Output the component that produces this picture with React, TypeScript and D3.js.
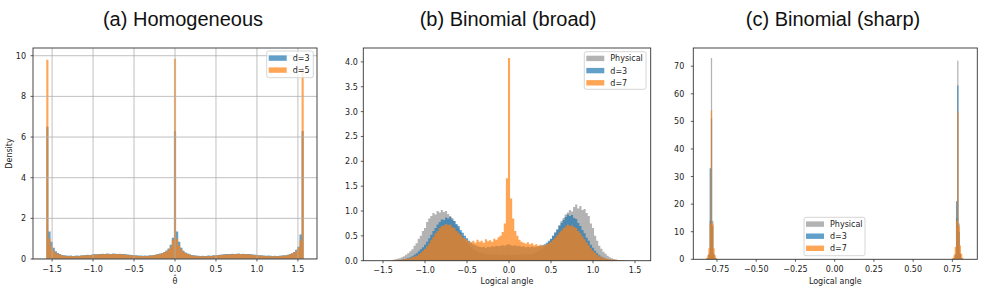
import React from "react";
import * as d3 from "d3";

const W = 987;
const H = 293;

// (a) Homogeneous: 121 bins over [-pi/2, pi/2]
const homLo = -1.5708;
const homHi = 1.5708;
const homD3 = [
  6.5, 1.35, 0.85, 0.55, 0.38, 0.3, 0.24, 0.2, 0.18, 0.17,
  0.16, 0.17, 0.15, 0.16, 0.17, 0.16, 0.18, 0.19, 0.2, 0.21,
  0.2, 0.22, 0.24, 0.23, 0.25, 0.24, 0.26, 0.25, 0.27, 0.26,
  0.25, 0.27, 0.26, 0.25, 0.26, 0.24, 0.25, 0.23, 0.22, 0.21,
  0.2, 0.19, 0.18, 0.17, 0.17, 0.16, 0.17, 0.16, 0.18, 0.19,
  0.2, 0.22, 0.24, 0.27, 0.3, 0.35, 0.42, 0.52, 0.7, 1.05,
  6.3,
  1.35, 0.85, 0.55, 0.4, 0.32, 0.27, 0.23, 0.2, 0.18, 0.17,
  0.16, 0.15, 0.16, 0.15, 0.16, 0.17, 0.16, 0.18, 0.19, 0.2,
  0.21, 0.22, 0.23, 0.24, 0.25, 0.24, 0.26, 0.25, 0.26, 0.27,
  0.25, 0.26, 0.25, 0.24, 0.25, 0.23, 0.22, 0.21, 0.2, 0.19,
  0.18, 0.17, 0.16, 0.17, 0.16, 0.15, 0.16, 0.15, 0.16, 0.17,
  0.18, 0.19, 0.21, 0.24, 0.28, 0.35, 0.45, 0.6, 1.2, 6.3,
];
const homD5 = [
  9.8, 1.0, 0.62, 0.42, 0.32, 0.25, 0.21, 0.18, 0.16, 0.15,
  0.14, 0.15, 0.13, 0.14, 0.15, 0.14, 0.16, 0.17, 0.18, 0.19,
  0.18, 0.2, 0.22, 0.21, 0.23, 0.22, 0.24, 0.23, 0.25, 0.24,
  0.23, 0.25, 0.24, 0.23, 0.24, 0.22, 0.23, 0.21, 0.2, 0.19,
  0.18, 0.17, 0.16, 0.15, 0.15, 0.14, 0.15, 0.14, 0.16, 0.17,
  0.18, 0.2, 0.22, 0.25, 0.28, 0.32, 0.38, 0.48, 0.62, 0.95,
  9.85,
  1.0, 0.66, 0.48, 0.36, 0.29, 0.24, 0.21, 0.18, 0.16, 0.15,
  0.14, 0.13, 0.14, 0.13, 0.14, 0.15, 0.14, 0.16, 0.17, 0.18,
  0.19, 0.2, 0.21, 0.22, 0.23, 0.22, 0.24, 0.23, 0.24, 0.25,
  0.23, 0.24, 0.23, 0.22, 0.23, 0.21, 0.2, 0.19, 0.18, 0.17,
  0.16, 0.15, 0.14, 0.15, 0.14, 0.13, 0.14, 0.13, 0.14, 0.15,
  0.16, 0.17, 0.19, 0.22, 0.26, 0.32, 0.4, 0.55, 0.9, 9.4,
];

// (b) Binomial (broad): bins of 0.025 starting at -1.5875
const broadStart = -1.5875;
const broadWidth = 0.025;
const broadPhysical = [
  0, 0, 0, 0, 0, 0.005, 0.01, 0.01, 0.02, 0.03,
  0.04, 0.05, 0.07, 0.09, 0.12, 0.15, 0.19, 0.23, 0.3, 0.35,
  0.44, 0.5, 0.6, 0.66, 0.78, 0.85, 0.9, 0.96, 0.93, 1.0,
  0.97, 1.02, 0.98, 1.0, 0.94, 0.9, 0.86, 0.8, 0.72, 0.66,
  0.57, 0.5, 0.43, 0.37, 0.31, 0.27, 0.23, 0.2, 0.18, 0.16,
  0.15, 0.14, 0.13, 0.14, 0.12, 0.13, 0.12, 0.13, 0.12, 0.11,
  0.12, 0.11, 0.12, 0.12, 0.11, 0.12, 0.12, 0.13, 0.12, 0.13,
  0.12, 0.13, 0.13, 0.14, 0.13, 0.15, 0.17, 0.19, 0.22, 0.25,
  0.28, 0.32, 0.37, 0.43, 0.5, 0.57, 0.64, 0.72, 0.8, 0.86,
  0.93, 0.97, 1.02, 0.99, 1.08, 1.13, 1.05, 1.1, 1.02, 1.04,
  0.96, 0.9, 0.75, 0.66, 0.5, 0.4, 0.3, 0.24, 0.18, 0.14,
  0.1, 0.07, 0.05, 0.035, 0.025, 0.015, 0.01, 0.005, 0.003, 0,
  0, 0, 0, 0, 0, 0, 0,
];
const broadD3 = [
  0, 0, 0, 0, 0, 0, 0, 0, 0.005, 0.008,
  0.01, 0.015, 0.02, 0.03, 0.04, 0.055, 0.07, 0.09, 0.12, 0.15,
  0.19, 0.23, 0.27, 0.32, 0.38, 0.45, 0.52, 0.6, 0.66, 0.73,
  0.78, 0.83, 0.82, 0.87, 0.85, 0.88, 0.83, 0.8, 0.74, 0.7,
  0.62, 0.56, 0.5, 0.45, 0.4, 0.36, 0.33, 0.31, 0.29, 0.28,
  0.27, 0.28, 0.26, 0.28, 0.27, 0.29, 0.28, 0.3, 0.29, 0.3,
  0.31, 0.3, 0.32, 0.33, 0.31, 0.3, 0.31, 0.29, 0.3, 0.28,
  0.29, 0.27, 0.28, 0.27, 0.28, 0.27, 0.28, 0.29, 0.3, 0.31,
  0.33, 0.36, 0.4, 0.44, 0.5, 0.56, 0.62, 0.7, 0.76, 0.82,
  0.88, 0.93, 0.9, 0.92, 0.86, 0.84, 0.76, 0.7, 0.62, 0.55,
  0.46, 0.4, 0.32, 0.26, 0.2, 0.15, 0.11, 0.08, 0.06, 0.04,
  0.03, 0.02, 0.015, 0.01, 0.005, 0, 0, 0, 0, 0,
  0, 0, 0, 0, 0, 0, 0,
];
const broadD7 = [
  0, 0, 0, 0, 0, 0, 0, 0, 0.01, 0.015,
  0.02, 0.02, 0.025, 0.03, 0.035, 0.045, 0.055, 0.07, 0.085, 0.1,
  0.13, 0.16, 0.2, 0.24, 0.29, 0.35, 0.42, 0.48, 0.55, 0.6,
  0.66, 0.7, 0.71, 0.74, 0.72, 0.73, 0.68, 0.66, 0.6, 0.56,
  0.52, 0.47, 0.44, 0.41, 0.38, 0.37, 0.4, 0.36, 0.42, 0.38,
  0.4, 0.36, 0.43, 0.39, 0.41, 0.38, 0.44, 0.42, 0.47, 0.5,
  0.58, 0.75, 1.66, 4.08, 1.25, 0.85, 0.6, 0.5, 0.42, 0.38,
  0.36, 0.34, 0.37, 0.33, 0.35, 0.31, 0.33, 0.3, 0.32, 0.3,
  0.31, 0.33, 0.35, 0.38, 0.42, 0.46, 0.51, 0.56, 0.61, 0.66,
  0.69, 0.73, 0.7, 0.72, 0.68, 0.66, 0.6, 0.55, 0.49, 0.43,
  0.37, 0.31, 0.25, 0.2, 0.16, 0.12, 0.09, 0.07, 0.055, 0.045,
  0.035, 0.03, 0.025, 0.02, 0.02, 0.015, 0.01, 0.01, 0.005, 0.005,
  0, 0, 0, 0, 0, 0, 0,
];

// (c) Binomial (sharp): two narrow clusters, bins of 0.008
const sharpWidth = 0.008;
const sharpStarts = [-0.821, 0.749];
const sharpPhysical = [
  [0, 0.3, 1.5, 14, 73, 14, 1.5, 0.3, 0],
  [0, 0.5, 1.5, 15, 72, 13, 2, 0.5, 0],
];
const sharpD3 = [
  [0, 0.5, 2, 33, 51, 12, 2, 0.5, 0],
  [0, 0.5, 2, 21, 63, 10, 2, 0.5, 0],
];
const sharpD7 = [
  [0.5, 1.5, 4, 13, 54, 13, 4, 1.5, 0.5],
  [0.5, 1.5, 4.5, 14, 53.5, 12, 5, 2, 0.5],
];

const homXTicks = [-1.5, -1, -0.5, 0, 0.5, 1, 1.5];
const homYTicks = [0, 2, 4, 6, 8, 10];
const broadXTicks = [-1.5, -1, -0.5, 0, 0.5, 1, 1.5];
const broadYTicks = [0, 0.5, 1, 1.5, 2, 2.5, 3, 3.5, 4];
const sharpXTicks = [-0.75, -0.5, -0.25, 0, 0.25, 0.5, 0.75];
const sharpYTicks = [0, 10, 20, 30, 40, 50, 60, 70];

const GRAY = "#808080";
const BLUE = "#1f77b4";
const ORANGE = "#ff7f0e";
const TICK_FONT = "DejaVu Sans, sans-serif";

const minus = (s: string) => s.replace("-", "\u2212");

function Panel(props: any) {
  const { id, left, right, top, bottom, xDomain, yDomain, xTicks, yTicks, xFmt, yFmt, series, legendItems, grid,
    legend, xLabel, yLabel, title, titleX, yLabelPad } = props;
  const x = d3.scaleLinear().domain(xDomain).range([left, right]);
  const y = d3.scaleLinear().domain(yDomain).range([bottom, top]);
  const area = d3
    .area<[number, number]>()
    .x((d) => x(d[0]))
    .y0(y(0))
    .y1((d) => y(d[1]))
    .curve(d3.curveStepAfter);

  const hist = (s: any) => {
    const pts: [number, number][] = s.values.map((v: number, i: number) => [s.start + i * s.width, v]);
    pts.push([s.start + s.values.length * s.width, s.values[s.values.length - 1]]);
    return area(pts) as string;
  };

  return (
    <g>
      <defs>
        <clipPath id={id}>
          <rect x={left} y={top} width={right - left} height={bottom - top} />
        </clipPath>
      </defs>
      <text x={titleX} y={26} textAnchor="middle" fontFamily="Liberation Sans, Arial, sans-serif" fontSize={20} fill="#111">
        {title}
      </text>
      <g clipPath={`url(#${id})`}>
        {series.map((s: any, i: number) => (
          <path key={i} d={hist(s)} fill={s.color} fillOpacity={s.alpha} />
        ))}
        {grid && (
          <g stroke="#b0b0b0" strokeWidth={0.8}>
            {xTicks.map((t: number) => (
              <line key={"gx" + t} x1={x(t)} x2={x(t)} y1={top} y2={bottom} />
            ))}
            {yTicks.map((t: number) => (
              <line key={"gy" + t} x1={left} x2={right} y1={y(t)} y2={y(t)} />
            ))}
          </g>
        )}
      </g>
      <rect x={left} y={top} width={right - left} height={bottom - top} fill="none" stroke="#333" strokeWidth={0.9} />
      <g fontFamily={TICK_FONT} fontSize={8} fill="#222">
        {xTicks.map((t: number) => (
          <g key={"xt" + t}>
            <line x1={x(t)} x2={x(t)} y1={bottom} y2={bottom + 2.5} stroke="#333" strokeWidth={0.8} />
            <text x={x(t)} y={bottom + 12.5} textAnchor="middle">
              {minus(xFmt(t))}
            </text>
          </g>
        ))}
        {yTicks.map((t: number) => (
          <g key={"yt" + t}>
            <line x1={left - 2.5} x2={left} y1={y(t)} y2={y(t)} stroke="#333" strokeWidth={0.8} />
            <text x={left - yLabelPad} y={y(t) + 3} textAnchor="end">
              {yFmt(t)}
            </text>
          </g>
        ))}
        <text x={(left + right) / 2} y={283.5} textAnchor="middle">
          {xLabel}
        </text>
        {yLabel && (
          <text transform={`translate(12,${(top + bottom) / 2}) rotate(-90)`} textAnchor="middle">
            {yLabel}
          </text>
        )}
      </g>
      <g>
        <rect x={legend.x} y={legend.y} width={legend.w} height={legend.h} rx={2} fill="#fff" fillOpacity={0.8}
          stroke="#cccccc" strokeWidth={0.8} />
        {legendItems.map((s: any, i: number) => (
          <g key={"lg" + i}>
            <rect x={legend.x + 2} y={legend.y + legend.row0 + i * legend.dy - 2.6} width={18} height={5.4}
              fill={s.color} fillOpacity={s.alpha} />
            <text x={legend.x + 26} y={legend.y + legend.row0 + i * legend.dy + 3} fontFamily={TICK_FONT}
              fontSize={8} fill="#222">
              {s.label}
            </text>
          </g>
        ))}
      </g>
    </g>
  );
}

export default function App() {
  const homW = (homHi - homLo) / homD3.length;
  const homSeries = [
    { label: "d=3", color: BLUE, alpha: 0.7, start: homLo, width: homW, values: homD3 },
    { label: "d=5", color: ORANGE, alpha: 0.7, start: homLo, width: homW, values: homD5 },
  ];
  const broadSeries = [
    { label: "Physical", color: GRAY, alpha: 0.6, start: broadStart, width: broadWidth, values: broadPhysical },
    { label: "d=3", color: BLUE, alpha: 0.7, start: broadStart, width: broadWidth, values: broadD3 },
    { label: "d=7", color: ORANGE, alpha: 0.7, start: broadStart, width: broadWidth, values: broadD7 },
  ];
  const sharpGroups = [
    { label: "Physical", color: GRAY, alpha: 0.6, data: sharpPhysical },
    { label: "d=3", color: BLUE, alpha: 0.7, data: sharpD3 },
    { label: "d=7", color: ORANGE, alpha: 0.7, data: sharpD7 },
  ];
  const sharpSeries = sharpGroups.flatMap((g) =>
    g.data.map((vals, k) => ({ color: g.color, alpha: g.alpha, start: sharpStarts[k], width: sharpWidth, values: vals }))
  );

  const f1 = d3.format(".1f");
  const f2 = d3.format(".2f");
  const f0 = d3.format("d");

  return (
    <svg width={W} height={H} style={{ position: "absolute", left: 0, top: 0, background: "#fff" }}>
      <rect width={W} height={H} fill="#fff" />
      <Panel id="clipA" left={33} right={317} top={48} bottom={259} xDomain={[-1.733, 1.733]} yDomain={[0, 10.38]}
        xTicks={homXTicks} yTicks={homYTicks} xFmt={f1} yFmt={f0} series={homSeries} legendItems={homSeries} grid
        legend={{ x: 266.7, y: 51, w: 46.6, h: 26.7, row0: 7, dy: 12 }} xLabel={"\u03b8\u0302"} yLabel="Density"
        title="(a) Homogeneous" titleX={183} yLabelPad={7} />
      <Panel id="clipB" left={363.3} right={650.7} top={48} bottom={260.7} xDomain={[-1.735, 1.687]}
        yDomain={[0, 4.28]} xTicks={broadXTicks} yTicks={broadYTicks} xFmt={f1} yFmt={f1} series={broadSeries}
        legendItems={broadSeries}
        legend={{ x: 584.3, y: 51.7, w: 61.7, h: 37.6, row0: 6.6, dy: 12.2 }} xLabel="Logical angle"
        title="(b) Binomial (broad)" titleX={508} yLabelPad={5.5} />
      <Panel id="clipC" left={693.3} right={977.3} top={48} bottom={259.3} xDomain={[-0.901, 0.909]}
        yDomain={[0, 76.6]} xTicks={sharpXTicks} yTicks={sharpYTicks} xFmt={f2} yFmt={f0} series={sharpSeries}
        legendItems={sharpGroups}
        legend={{ x: 804, y: 217.3, w: 61, h: 38.4, row0: 6.7, dy: 12.1 }} xLabel="Logical angle"
        title="(c) Binomial (sharp)" titleX={833} yLabelPad={9} />
    </svg>
  );
}
